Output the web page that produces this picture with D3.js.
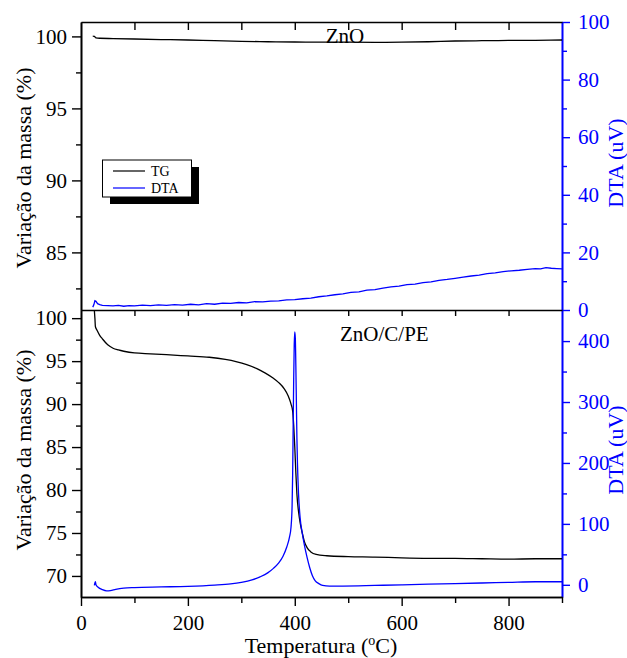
<!DOCTYPE html>
<html>
<head>
<meta charset="utf-8">
<script src="https://cdn.jsdelivr.net/npm/d3@7/dist/d3.min.js"></script>
<style>
  body { margin: 0; background: #fff; }
  svg text { font-family: "Liberation Serif", "DejaVu Serif", serif; }
</style>
</head>
<body>
<div id="chart"></div>
<script>
// temperature ticks (shared x axis)
const tempMajor = [0, 200, 400, 600, 800];
const tempMinor = [100, 300, 500, 700, 900];
const tempFrame = [100, 200, 300, 400, 500, 600, 700, 800];

// ZnO panel ticks
const znoMassMajor = [85, 90, 95, 100];
const znoMassMinor = [82.5, 87.5, 92.5, 97.5];
const znoDtaMajor = [0, 20, 40, 60, 80, 100];
const znoDtaMinor = [10, 30, 50, 70, 90];

// ZnO/C/PE panel ticks
const compMassMajor = [70, 75, 80, 85, 90, 95, 100];
const compMassMinor = [72.5, 77.5, 82.5, 87.5, 92.5, 97.5];
const compDtaMajor = [0, 100, 200, 300, 400];
const compDtaMinor = [50, 150, 250, 350];

// ZnO: TG [T (C), mass %]
const znoTG = [[22,100.02],[25,100.0],[28,99.9],[35,99.87],[60,99.85],[100,99.82],[150,99.78],
  [200,99.75],[250,99.7],[300,99.66],[350,99.63],[400,99.61],[450,99.6],[500,99.6],[550,99.59],
  [600,99.6],[650,99.63],[700,99.68],[750,99.7],[800,99.72],[850,99.73],[900,99.75]];

// ZnO: DTA [T (C), uV]
const znoDTA = [[22,1.0],[24,1.8],[26,3.2],[28,3.0],[31,2.2],[35,1.9],[40,1.6],[50,1.5],[60,1.4],
  [70,1.6],[80,1.3],[90,1.5],[100,1.4],[115,1.7],[130,1.5],[145,1.8],[160,1.6],[175,1.9],[190,1.7],
  [205,2.0],[220,1.8],[235,2.2],[250,2.0],[265,2.4],[280,2.3],[295,2.6],[310,2.5],[325,2.9],
  [340,2.8],[355,3.1],[370,3.2],[385,3.5],[400,3.6],[415,3.9],[430,4.1],[445,4.6],[460,4.9],
  [475,5.3],[490,5.6],[505,6.1],[520,6.3],[535,6.9],[550,7.1],[565,7.6],[580,8.0],[595,8.3],
  [610,8.8],[625,9.0],[640,9.5],[655,9.8],[670,10.3],[685,10.6],[700,11.0],[715,11.4],[730,11.8],
  [745,12.1],[760,12.6],[775,12.9],[790,13.3],[805,13.6],[820,13.8],[835,14.1],[850,14.4],
  [860,14.3],[870,14.7],[880,14.5],[890,14.4],[900,14.3]];

// ZnO/C/PE: TG
const compTG = [[25,100.9],[26,100.0],[27,99.0],[30,98.6],[35,98.0],[40,97.6],[50,96.9],[60,96.5],
  [70,96.3],[80,96.15],[100,95.95],[130,95.85],[160,95.75],[200,95.6],[240,95.45],[270,95.2],
  [290,94.95],[310,94.6],[330,94.1],[345,93.6],[360,93.0],[370,92.5],[380,91.8],[388,90.9],
  [393,90.0],[396,89.2],[398,87.5],[400,85],[402,82],[404,79.5],[407,77.5],[410,76.2],[414,75.0],
  [418,74.0],[423,73.3],[430,72.8],[440,72.5],[460,72.35],[500,72.25],[550,72.2],[600,72.1],
  [650,72.05],[700,72.05],[750,72.0],[800,71.95],[850,72.0],[900,72.0]];

// ZnO/C/PE: DTA
const compDTA = [[25,-1],[26,3],[27,5],[28,0],[32,-4],[40,-8],[48,-10],[55,-9.5],[65,-7.5],
  [80,-5.5],[100,-4.5],[150,-3.5],[200,-2.5],[250,-0.5],[280,1.5],[300,4],[320,8],[335,13],
  [350,20],[360,27],[370,36],[378,47],[385,62],[390,78],[393,95],[395,130],[396,180],[397,260],
  [398,340],[399,395],[400,415],[401,405],[402,360],[403,300],[404,240],[405,200],[407,150],
  [410,110],[414,85],[418,65],[423,45],[428,28],[433,15],[438,7],[445,2],[452,-1],[465,-2],
  [490,-2],[550,-1],[600,0],[650,1],[700,2],[750,3],[800,4],[850,5],[900,5]];

const legendLabels = ["TG", "DTA"];
const BLUE = "#0000ff";

const width = 627, height = 658;
const svg = d3.select("#chart").append("svg")
  .attr("width", width)
  .attr("height", height);

// scales
const x = d3.scaleLinear().domain([0, 900]).range([81, 562]);
const yTop = d3.scaleLinear().domain([81, 101]).range([310, 22]);
const yTopR = d3.scaleLinear().domain([0, 100]).range([310, 22]);
const yBot = d3.scaleLinear().domain([67.55, 100.95]).range([597, 310]);
const yBotR = d3.scaleLinear().domain([-20, 451]).range([597, 310]);

// caption, cut off by the top edge in the source figure
svg.append("text")
  .attr("x", 318).attr("y", -1)
  .attr("text-anchor", "middle")
  .attr("textLength", 548)
  .style("font-size", "20px")
  .style("font-weight", "bold")
  .style("fill", "#aaa")
  .text("Curvas TG e DTA das amostras de ZnO e ZnO/C/PE");

function styleAxis(g, color) {
  g.selectAll(".domain").attr("stroke", color).attr("stroke-width", 1.6);
  g.selectAll(".tick line").attr("stroke", color).attr("stroke-width", 1.4);
  g.selectAll(".tick text").attr("fill", color)
    .style("font-size", "21px")
    .style("font-family", "'Liberation Serif', serif");
}

function drawPanel(yL, yR, massMajor, massMinor, dtaMajor, dtaMinor, top) {
  // left axis
  svg.append("g").attr("transform", "translate(81,0)")
    .call(d3.axisLeft(yL).tickValues(massMinor).tickSize(5).tickFormat("").tickSizeOuter(0))
    .call(g => styleAxis(g, "#000"));
  svg.append("g").attr("transform", "translate(81,0)")
    .call(d3.axisLeft(yL).tickValues(massMajor).tickSize(9).tickPadding(5).tickSizeOuter(0))
    .call(g => styleAxis(g, "#000"));

  // right axis
  svg.append("g").attr("transform", "translate(562,0)")
    .call(d3.axisRight(yR).tickValues(dtaMinor).tickSize(5).tickFormat("").tickSizeOuter(0))
    .call(g => styleAxis(g, BLUE));
  svg.append("g").attr("transform", "translate(562,0)")
    .call(d3.axisRight(yR).tickValues(dtaMajor).tickSize(8).tickPadding(8).tickSizeOuter(0))
    .call(g => styleAxis(g, BLUE));

  // top frame with inward ticks
  svg.append("g").attr("transform", `translate(0,${top})`)
    .call(d3.axisTop(x).tickValues(tempFrame).tickSize(top === 22 ? -8 : -6).tickFormat("").tickSizeOuter(0))
    .call(g => styleAxis(g, "#000"));
}

drawPanel(yTop, yTopR, znoMassMajor, znoMassMinor, znoDtaMajor, znoDtaMinor, 22);
drawPanel(yBot, yBotR, compMassMajor, compMassMinor, compDtaMajor, compDtaMinor, 310);

// bottom axis
svg.append("g").attr("transform", "translate(0,597)")
  .call(d3.axisBottom(x).tickValues(tempMinor).tickSize(6).tickFormat("").tickSizeOuter(0))
  .call(g => styleAxis(g, "#000"));
svg.append("g").attr("transform", "translate(0,597)")
  .call(d3.axisBottom(x).tickValues(tempMajor).tickSize(9).tickPadding(9).tickSizeOuter(0))
  .call(g => styleAxis(g, "#000"));

// data lines
const lineTop = d3.line().x(d => x(d[0])).y(d => yTop(d[1])).curve(d3.curveMonotoneX);
const lineTopR = d3.line().x(d => x(d[0])).y(d => yTopR(d[1]));
const lineBot = d3.line().x(d => x(d[0])).y(d => yBot(d[1])).curve(d3.curveMonotoneX);
const lineBotR = d3.line().x(d => x(d[0])).y(d => yBotR(d[1])).curve(d3.curveMonotoneX);

svg.append("path").datum(znoTG).attr("d", lineTop)
  .attr("fill", "none").attr("stroke", "#000").attr("stroke-width", 1.3);
svg.append("path").datum(znoDTA).attr("d", lineTopR)
  .attr("fill", "none").attr("stroke", BLUE).attr("stroke-width", 1.3);
svg.append("path").datum(compTG).attr("d", lineBot)
  .attr("fill", "none").attr("stroke", "#000").attr("stroke-width", 1.3);
svg.append("path").datum(compDTA).attr("d", lineBotR)
  .attr("fill", "none").attr("stroke", BLUE).attr("stroke-width", 1.3);

// panel labels
svg.append("text").attr("x", 345).attr("y", 43)
  .attr("text-anchor", "middle").style("font-size", "21px").text("ZnO");
svg.append("text").attr("x", 340).attr("y", 341)
  .style("font-size", "21px").text("ZnO/C/PE");

// axis titles
[168, 450].forEach(cy => {
  svg.append("text")
    .attr("transform", `translate(31,${cy}) rotate(-90)`)
    .attr("text-anchor", "middle")
    .style("font-size", "22px")
    .text("Variação da massa (%)");
});
[163, 450].forEach(cy => {
  svg.append("text")
    .attr("transform", `translate(623,${cy}) rotate(-90)`)
    .attr("text-anchor", "middle")
    .style("font-size", "22px")
    .style("fill", BLUE)
    .text("DTA (uV)");
});

const xTitle = svg.append("text")
  .attr("x", 321).attr("y", 653)
  .attr("text-anchor", "middle")
  .style("font-size", "22px");
xTitle.append("tspan").text("Temperatura (");
xTitle.append("tspan").attr("dy", -8).style("font-size", "14px").text("o");
xTitle.append("tspan").attr("dy", 8).text("C)");

// legend
svg.append("rect").attr("x", 110).attr("y", 167).attr("width", 89).attr("height", 37).attr("fill", "#000");
svg.append("rect").attr("x", 102.5).attr("y", 160).attr("width", 89).attr("height", 37)
  .attr("fill", "#fff").attr("stroke", "#000").attr("stroke-width", 1);

const legendColors = ["#000", BLUE];
const legend = svg.selectAll(".legend")
  .data(legendLabels)
  .enter().append("g")
  .attr("class", "legend")
  .attr("transform", (d, i) => `translate(0,${171 + i * 17})`);

legend.append("line")
  .attr("x1", 113).attr("x2", 145).attr("y1", 0).attr("y2", 0)
  .attr("stroke", (d, i) => legendColors[i]).attr("stroke-width", 1.2);
legend.append("text")
  .attr("x", 151).attr("y", 5)
  .style("font-size", "14px")
  .text(d => d);
</script>
</body>
</html>
